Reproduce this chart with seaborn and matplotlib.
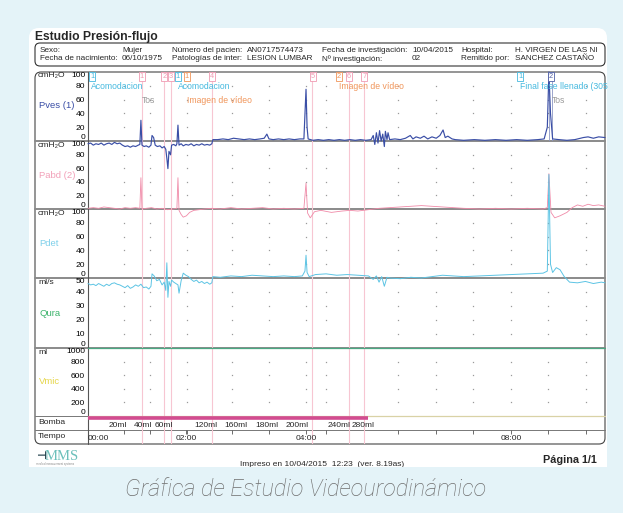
import numpy as np
import pandas as pd
import matplotlib
matplotlib.use('Agg')
import matplotlib.pyplot as plt
import seaborn as sns
from matplotlib.patches import FancyBboxPatch, Rectangle

sns.set_theme(style='white')
plt.rcParams['font.family'] = ['Liberation Sans', 'DejaVu Sans']

W, H = 623, 513
BG = '#e4f3f8'
T_END = 9.77   # minutes shown on the printout

# --- traces (time in minutes) ---
pves_t = [0.00, 0.05, 0.10, 0.15, 0.20, 0.25, 0.30, 0.35, 0.40, 0.45,
          0.50, 0.55, 0.60, 0.65, 0.70, 0.75, 0.80, 0.85, 0.90, 0.95,
          0.98, 1.00, 1.02, 1.06, 1.10, 1.15, 1.19, 1.21, 1.24, 1.27,
          1.31, 1.36, 1.40, 1.44, 1.47, 1.49, 1.51, 1.53, 1.56, 1.58,
          1.62, 1.66, 1.68, 1.70, 1.72, 1.76, 1.80, 1.85, 1.90, 1.95,
          2.00, 2.05, 2.10, 2.15, 2.20, 2.25, 2.30, 2.34, 2.36, 2.45,
          2.55, 2.65, 2.75, 2.85, 2.95, 3.05, 3.15, 3.25, 3.33, 3.38,
          3.42, 3.50, 3.60, 3.70, 3.80, 3.90, 4.00, 4.08, 4.10, 4.12,
          4.14, 4.16, 4.25, 4.35, 4.45, 4.55, 4.65, 4.75, 4.85, 4.95,
          5.05, 5.15, 5.25, 5.35, 5.39, 5.42, 5.45, 5.48, 5.51, 5.54,
          5.57, 5.60, 5.62, 5.65, 5.67, 5.70, 5.80, 5.90, 6.00, 6.09,
          6.14, 6.20, 6.28, 6.35, 6.42, 6.50, 6.58, 6.65, 6.71, 6.75,
          6.80, 6.88, 6.94, 7.10, 7.30, 7.50, 7.70, 7.90, 8.10, 8.30,
          8.50, 8.62, 8.68, 8.71, 8.74, 8.78, 8.90, 9.05, 9.20, 9.36,
          9.45, 9.55, 9.65, 9.77]
pves_v = [-4, -3, -6, -4, -5, -3, -6, -4, -3, -5,
          -2, -4, -3, -6, -8, -7, -9, -7, -8, -6,
          -5, 30, -6, -8, -7, -9, -6, 8, 5, -6,
          -8, -7, -10, -8, -12, -25, -40, -15, -20, -6,
          -5, -7, -4, 23, -6, -4, -7, -5, -6, -4,
          -7, -5, -6, -4, -6, -5, -6, -4, 2, 2,
          3, 2, 4, 3, 2, 3, 2, 3, 4, 10,
          3, 2, 3, 2, 3, 2, 3, 3, 40, 75,
          20, 3, 1, 2, 1, 2, 1, 2, 1, 2,
          1, 2, 1, 2, 8, -5, 12, -3, 15, 0,
          10, -8, 14, 2, 12, 2, 3, 2, 4, 8,
          3, 6, 4, 7, 3, 6, 4, 8, 16, 5,
          7, 3, 2, 1, 2, 1, 2, 1, 2, 1,
          2, 3, 20, 100, 40, 3, 2, 1, 2, 5,
          6, 4, 6, 5]

pabd_t = [0.00, 0.10, 0.20, 0.30, 0.40, 0.50, 0.60, 0.70, 0.80, 0.90,
          0.98, 1.00, 1.02, 1.10, 1.20, 1.30, 1.40, 1.50, 1.60, 1.68,
          1.70, 1.72, 1.76, 1.80, 1.86, 1.92, 2.00, 2.10, 2.20, 2.34,
          2.50, 2.70, 2.90, 3.10, 3.30, 3.50, 3.70, 3.90, 4.08, 4.12,
          4.15, 4.20, 4.28, 4.40, 4.60, 4.80, 4.95, 5.10, 5.30, 5.50,
          5.70, 5.90, 6.10, 6.30, 6.50, 6.70, 6.90, 7.10, 7.40, 7.70,
          8.00, 8.30, 8.60, 8.68, 8.71, 8.75, 8.82, 8.92, 9.05, 9.15,
          9.25, 9.35, 9.45, 9.55, 9.65, 9.77]
pabd_v = [1, 2, 1, 3, 2, 1, 0, 2, 1, 2,
          1, 46, 0, 1, 2, 0, 1, -1, 0, 1,
          46, -2, -8, -12, -10, -5, -2, -1, 0, 1,
          0, 2, 0, 1, 2, 0, 1, 0, 1, 38,
          -6, -13, -4, -2, -5, -3, -2, -3, -1, 1,
          2, 3, 4, 5, 4, 3, 2, 1, 0, 1,
          0, 1, 0, 2, 52, -5, -13, -10, -5, 2,
          6, 4, 7, 5, 6, 4]

pdet_t = [0.00, 0.05, 0.10, 0.15, 0.20, 0.25, 0.30, 0.35, 0.40, 0.45,
          0.50, 0.55, 0.60, 0.65, 0.70, 0.75, 0.80, 0.85, 0.90, 0.95,
          1.00, 1.05, 1.10, 1.15, 1.19, 1.21, 1.25, 1.30, 1.35, 1.40,
          1.44, 1.47, 1.49, 1.51, 1.53, 1.56, 1.58, 1.62, 1.66, 1.70,
          1.72, 1.76, 1.80, 1.85, 1.90, 1.95, 2.00, 2.05, 2.10, 2.15,
          2.20, 2.25, 2.30, 2.34, 2.36, 2.50, 2.70, 2.90, 3.10, 3.30,
          3.50, 3.70, 3.90, 4.05, 4.10, 4.12, 4.14, 4.18, 4.30, 4.50,
          4.70, 4.90, 5.10, 5.30, 5.39, 5.45, 5.50, 5.55, 5.60, 5.65,
          5.70, 5.90, 6.10, 6.30, 6.50, 6.70, 6.90, 7.10, 7.40, 7.70,
          8.00, 8.30, 8.60, 8.68, 8.71, 8.74, 8.78, 8.85, 8.92, 9.00,
          9.10, 9.25, 9.40, 9.55, 9.70, 9.77]
pdet_v = [-8, -10, -9, -11, -8, -10, -12, -9, -11, -8,
          -7, -9, -10, -12, -14, -11, -15, -13, -10, -12,
          -9, -14, -13, -16, -12, 6, 3, -4, -2, -10,
          -6, -18, 22, -28, -5, -12, -3, -6, -8, -10,
          -22, -4, 7, 4, 2, -2, -5, -3, -7, -5,
          -8, -6, -9, -7, 2, 1, 3, 2, 4, 3,
          2, 3, 2, 3, 10, 33, 8, 2, 5, 6,
          4, 5, 4, 3, -2, 3, -6, 2, -12, 1,
          0, -1, 1, 0, 2, 4, 3, 2, 3, 4,
          5, 6, 7, 10, 150, 20, 8, 15, 12, 2,
          -6, -7, -5, -8, -6, -7]

qura_t = [0.0, T_END]
qura_v = [0, 0]
vmic_t = [0.0, T_END]
vmic_v = [0, 0]
bomba_t = [0.0, 5.29]

# pump volume marks
vol_labels = ['20ml', '40ml', '60ml', '120ml', '160ml', '180ml', '200ml', '240ml', '280ml']
vol_t = [0.56, 1.03, 1.44, 2.23, 2.80, 3.39, 3.96, 4.74, 5.20]

# time axis
time_labels = ['00:00', '02:00', '04:00', '08:00']
time_t = [0.0, 1.85, 4.12, 8.00]
grid_t = [0.68, 1.17, 1.87, 2.72, 3.42, 4.12, 4.50, 5.86, 6.58, 7.28, 8.00, 8.70, 9.41]

# events
event_line_t = [1.02, 1.44, 1.57, 2.34, 4.23, 4.93, 5.22]
event_box_t = [0.08, 1.02, 1.44, 1.57, 1.70, 1.87, 2.34, 4.25, 4.74, 4.93, 5.22, 8.17, 8.75]
event_box_lbl = ['1', '1', '2', '3', '1', '1', '4', '5', '2', '6', '7', '1', '2']
event_box_kind = ['c', 'p', 'p', 'p', 'c', 'o', 'p', 'p', 'o', 'p', 'p', 'c', 'b']
note_t = [0.06, 1.02, 1.70, 1.87, 4.74, 8.17, 8.77]
note_v = [79, 59, 79, 59, 79, 79, 59]
note_txt = ['Acomodacion', 'Tos', 'Acomodacion', 'Imagen de vídeo', 'Imagen de vídeo',
            'Final fase llenado (305', 'Tos']
note_kind = ['c', 'g', 'c', 'o', 'o', 'c', 'g']
kind_col = {'c': '#45b9df', 'p': '#f09ab2', 'o': '#f0955a', 'b': '#4f5fa6', 'g': '#9a9a9a'}

fig = plt.figure(figsize=(W / 100, H / 100), dpi=100, facecolor=BG)


def px_axes(x0, y0, x1, y1, z=1.0):
    return fig.add_axes([x0 / W, 1 - y1 / H, (x1 - x0) / W, (y1 - y0) / H], zorder=z)


# page / frame layer in pixel coordinates
bg = px_axes(0, 0, W, H, z=0)
bg.set_xlim(0, W)
bg.set_ylim(H, 0)
bg.axis('off')
bg.add_patch(FancyBboxPatch((29, 28), 578, 470, boxstyle='round,pad=0,rounding_size=10',
                            fc='white', ec='none'))
bg.text(35, 37, 'Estudio Presión-flujo', fontsize=8.7, fontweight='bold', va='center')
bg.add_patch(FancyBboxPatch((35, 43), 570, 23, boxstyle='round,pad=0,rounding_size=5',
                            fc='none', ec='#333333', lw=0.8))
hdr_x = [40, 122, 172, 247, 322, 412, 461, 515]
hdr_row1 = ['Sexo:', 'Mujer', 'Número del pacien:', 'AN0717574473',
            'Fecha de investigación:', '10/04/2015', 'Hospital:', 'H. VIRGEN DE LAS NI']
hdr_row2 = ['Fecha de nacimiento:', '06/10/1975', 'Patologías de inter:', 'LESION LUMBAR',
            'Nº investigación:', '02', 'Remitido por:', 'SANCHEZ CASTAÑO']
for x, a, b in zip(hdr_x, hdr_row1, hdr_row2):
    bg.text(x, 50, a, fontsize=5.9, va='center')
    bg.text(x, 59, b, fontsize=5.9, va='center')

bg.add_patch(FancyBboxPatch((35, 72), 570, 372, boxstyle='round,pad=0,rounding_size=6',
                            fc='none', ec='#444444', lw=0.8))
for y in [141, 209, 278, 348]:
    bg.plot([35, 605], [y, y], color='#8a8a8a', lw=1.4)
for y in [416, 430]:
    bg.plot([35, 605], [y, y], color='#777777', lw=0.7)
bg.plot([88, 88], [72, 444], color='#555555', lw=0.8)

# left label column
units = [('cmH₂O', 76), ('cmH₂O', 145), ('cmH₂O', 214), ('ml/s', 283), ('ml', 352)]
for s, y in units:
    bg.text(38, y, s, fontsize=6.1, va='center')
chan = [('Pves (1)', 106, '#3a4ea6'), ('Pabd (2)', 175, '#f2a0b8'), ('Pdet', 243, '#7fd0ea'),
        ('Qura', 313, '#3bb36b'), ('Vmic', 382, '#e6d64a')]
for s, y, c in chan:
    bg.text(39, y, s, fontsize=6.8, va='center', color=c)
bg.text(38, 423, 'Bomba', fontsize=6.1, va='center')
bg.text(38, 437, 'Tiempo', fontsize=6.1, va='center')

# footer
bg.text(36, 456, '⊣', fontsize=8, color='#1f3f4a', va='center', fontweight='bold')
bg.text(45, 456, 'MMS', fontsize=10.5, color='#6cc0bb', va='center', family='Liberation Serif')
bg.text(36, 464, 'medical measurement systems', fontsize=2, color='#888888', va='center')
bg.text(240, 465, 'Impreso en 10/04/2015  12:23  (ver. 8.19as)', fontsize=6, va='center')
bg.text(543, 460, 'Página 1/1', fontsize=7.8, fontweight='bold', va='center')
bg.add_patch(Rectangle((0, 467), W, 46, fc=BG, ec='none', zorder=5))
bg.text(306, 490, 'Gráfica de Estudio Videourodinámico', fontsize=16.8, style='italic',
        fontweight='light', color='#6e6e6e', ha='center', va='center', zorder=6,
        family=['Roboto', 'Open Sans', 'Liberation Sans'])

# event lines across all rows
ov = px_axes(88, 72, 605, 444, z=0.5)
ov.set_xlim(0, T_END)
ov.set_ylim(0, 1)
ov.axis('off')
for t in event_line_t:
    ov.axvline(t, color='#f7c6d2', lw=0.8)

# signal panels
panel_px = [(72, 141), (141, 209), (209, 278), (278, 348), (348, 416)]
panel_ticks = [[0, 20, 40, 60, 80, 100]] * 3 + [[0, 10, 20, 30, 40, 50],
                                               [0, 200, 400, 600, 800, 1000]]
axes = []
for (y0, y1), ticks in zip(panel_px, panel_ticks):
    ax = px_axes(88, y0, 605, y1)
    ax.set_facecolor('none')
    ax.set_xlim(0, T_END)
    ax.set_ylim(0, ticks[-1])
    for sp in ax.spines.values():
        sp.set_visible(False)
    ax.set_xticks([])
    ax.set_yticks(ticks)
    ax.set_yticklabels([str(v) for v in ticks])
    ax.tick_params(axis='y', length=0, pad=2, labelsize=6.1, colors='black')
    lbls = ax.get_yticklabels()
    lbls[0].set_va('bottom')
    lbls[-1].set_va('top')
    gx, gy = np.meshgrid(grid_t, ticks[1:-1])
    ax.plot(gx.ravel(), gy.ravel(), ls='none', marker='s', ms=0.9, mew=0, color='#9a9a9a')
    axes.append(ax)
ax_pves, ax_pabd, ax_pdet, ax_qura, ax_vmic = axes

ax_pves.axvline(8.72, color='#8a96c4', lw=0.6)
ax_pves.axvline(8.77, color='#8a96c4', lw=0.6)

sns.lineplot(x=pves_t, y=pves_v, ax=ax_pves, color='#3a4ea6', lw=0.85,
             estimator=None, sort=False, clip_on=False)
sns.lineplot(x=pabd_t, y=pabd_v, ax=ax_pabd, color='#f08aa8', lw=0.6,
             estimator=None, sort=False, clip_on=False)
sns.lineplot(x=pdet_t, y=pdet_v, ax=ax_pdet, color='#5cc4e4', lw=0.7,
             estimator=None, sort=False, clip_on=False)
sns.lineplot(x=qura_t, y=qura_v, ax=ax_qura, color='#4aa882', lw=0.9,
             estimator=None, sort=False, clip_on=False)
sns.lineplot(x=vmic_t, y=vmic_v, ax=ax_vmic, color='#d9d2a6', lw=0.9,
             estimator=None, sort=False, clip_on=False)
for ax in axes:
    ax.set_xlabel('')
    ax.set_ylabel('')

for t, s, k in zip(event_box_t, event_box_lbl, event_box_kind):
    c = kind_col[k]
    ax_pves.text(t, 0.935, s, transform=ax_pves.get_xaxis_transform(), fontsize=5.3,
                 color=c, ha='center', va='center',
                 bbox=dict(boxstyle='square,pad=0.12', fc='white', ec=c, lw=0.6))
for t, v, s, k in zip(note_t, note_v, note_txt, note_kind):
    ax_pves.text(t, v, s, fontsize=6.2, color=kind_col[k], ha='left', va='center')

# pump row
ax_b = px_axes(88, 416, 605, 430)
ax_b.set_xlim(0, T_END)
ax_b.set_ylim(0, 1)
ax_b.axis('off')
ax_b.plot(bomba_t, [0.88, 0.88], color='#d24c90', lw=2.6, solid_capstyle='butt')
for t, s in zip(vol_t, vol_labels):
    ax_b.text(t, 0.35, s, fontsize=6.0, ha='center', va='center')

# time row
ax_t = px_axes(88, 430, 605, 444)
ax_t.set_facecolor('none')
ax_t.set_xlim(0, T_END)
ax_t.set_ylim(0, 1)
for sp in ax_t.spines.values():
    sp.set_visible(False)
ax_t.set_yticks([])
ax_t.set_xticks(sorted(set(time_t + grid_t)))
ax_t.tick_params(axis='x', direction='in', top=True, bottom=False, labelbottom=False,
                 length=3, width=0.6, color='#555555')
for t, s in zip(time_t, time_labels):
    ax_t.text(t, 0.4, s, fontsize=6.0, ha='left' if t == 0 else 'center', va='center')

fig.savefig('out.png', dpi=100, facecolor=BG)
